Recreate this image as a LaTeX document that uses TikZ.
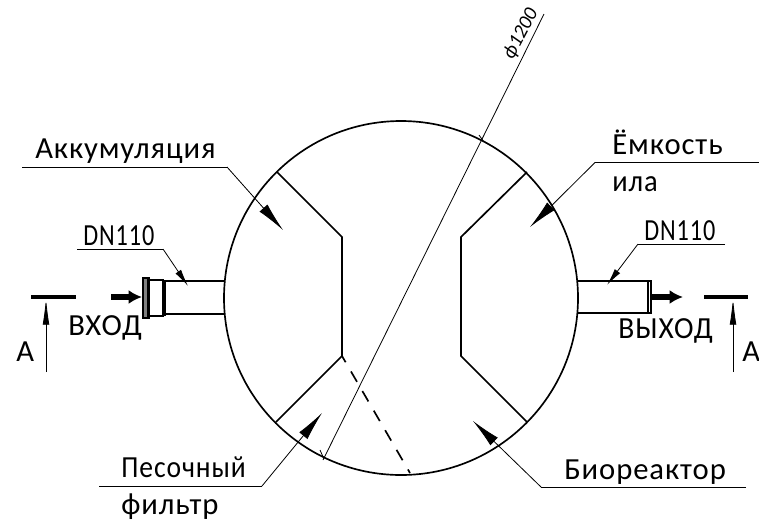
\documentclass[tikz,border=0pt]{standalone}
\usepackage{fontspec}
\setmainfont{Carlito}
\usetikzlibrary{arrows.meta}
\tikzset{
 tag/.style={inner sep=0pt,anchor=base west,font=\fontsize{23}{23}\selectfont\addfontfeatures{LetterSpace=3,FakeStretch=#1}},
 tag/.default=1,
 wall/.style={line width=1.25pt},
 thin line/.style={line width=0.6pt},
 leader/.style={line width=0.6pt,-{Latex[length=22pt,width=8pt]}},
 small leader/.style={line width=0.6pt,-{Latex[length=13pt,width=5pt]}},
 flow/.style={line width=4pt,-{Latex[length=10pt,width=10.5pt]}},
 cut/.style={line width=0.6pt,-{Latex[length=20pt,width=5pt]}},
 bar/.style={line width=3pt},
}
\begin{document}
\begin{tikzpicture}[x=0.75pt,y=-0.75pt]
 \useasboundingbox (0,0) rectangle (759,526);
 % tank
 \coordinate (centre) at (401,298);
 \draw[wall] (centre) circle (177);
 % partitions
 \draw[wall] (277,172)--(342,237)--(342,356)--(276,422);
 \draw[wall] (527,172)--(461,237)--(461,356)--(527,422);
 \draw[wall,dash pattern=on 9pt off 8pt,dash phase=3.6pt] (342,356)--(410,473);
 % diameter
 \coordinate (dia top) at (544,14);
 \coordinate (dia bot) at (323,460);
 \draw[thin line] (dia top)--(dia bot);
 \draw[thin line] (479,135)--(484,142);
 \draw[thin line] (320,450)--(324,459);
 \node[inner sep=0pt,rotate=62,font=\fontsize{15}{15}\selectfont\itshape] (dia) at (521,34) {\char"03D5 1200};
 % inlet pipe
 \draw[wall] (224,281)--(165,281);
 \draw[wall] (224,314)--(165,314);
 \draw[line width=2.6pt] (164,280)--(164,316);
 \draw[wall] (164,280)--(149,280) (164,316)--(149,316);
 \draw[wall,fill=gray] (149,278) rectangle (143,318);
 \draw[line width=2.2pt] (148,278)--(148,318);
 % outlet pipe
 \draw[wall] (578,281)--(651,281)--(651,313)--(578,313);
 \draw[wall] (648,281)--(648,313);
 % flow arrows
 \coordinate (in a) at (111,297);
 \coordinate (in b) at (142,297);
 \coordinate (out a) at (652,297);
 \coordinate (out b) at (683,297);
 \draw[flow] (in a)--(in b);
 \draw[flow] (out a)--(out b);
 % section marks
 \draw[bar] (31,297)--(76,297);
 \draw[bar] (704,297)--(748,297);
 \coordinate (cut l) at (46,372);
 \coordinate (cut l top) at (46,298);
 \coordinate (cut r) at (733,372);
 \coordinate (cut r top) at (733,298);
 \draw[cut] (cut l)--(cut l top);
 \draw[cut] (cut r)--(cut r top);
 % labels
 \node[tag] (akk) at (35,158) {Аккумуляция};
 \node[tag] (emk) at (612,154) {Ёмкость};
 \node[tag=.93] (ila) at (612,191) {ила};
 \node[tag=.79] (dnl) at (83,245) {DN110};
 \node[tag=.79] (dnr) at (644,240) {DN110};
 \node[tag] (vhod) at (68,335) {ВХОД};
 \node[tag=.96] (vyhod) at (618,338) {ВЫХОД};
 \node[tag] (al) at (16,361) {А};
 \node[tag] (ar) at (742,361) {А};
 \node[tag=.9] (pes) at (121,477) {Песочный};
 \node[tag] (fil) at (121,514) {фильтр};
 \node[tag] (bio) at (564,479) {Биореактор};
 % leaders
 \draw[thin line] (22,167)--(227,167) coordinate (akk knee);
 \coordinate (akk tip) at (283,230);
 \draw[leader] (akk knee)--(akk tip);
 \draw[thin line] (759,162.5)--(595,162.5) coordinate (emk knee);
 \coordinate (emk tip) at (530,227);
 \draw[leader] (emk knee)--(emk tip);
 \draw[thin line] (77,249)--(163,249) coordinate (dnl knee);
 \coordinate (dnl tip) at (188,286);
 \draw[small leader] (dnl knee)--(dnl tip);
 \draw[thin line] (725,244)--(638,244) coordinate (dnr knee);
 \coordinate (dnr tip) at (607,285);
 \draw[small leader] (dnr knee)--(dnr tip);
 \draw[thin line] (99,486)--(262,486) coordinate (pes knee);
 \coordinate (pes tip) at (322,413);
 \draw[leader] (pes knee)--(pes tip);
 \draw[thin line] (746,487)--(541,487) coordinate (bio knee);
 \coordinate (bio tip) at (473,421);
 \draw[leader] (bio knee)--(bio tip);
\end{tikzpicture}
\end{document}
